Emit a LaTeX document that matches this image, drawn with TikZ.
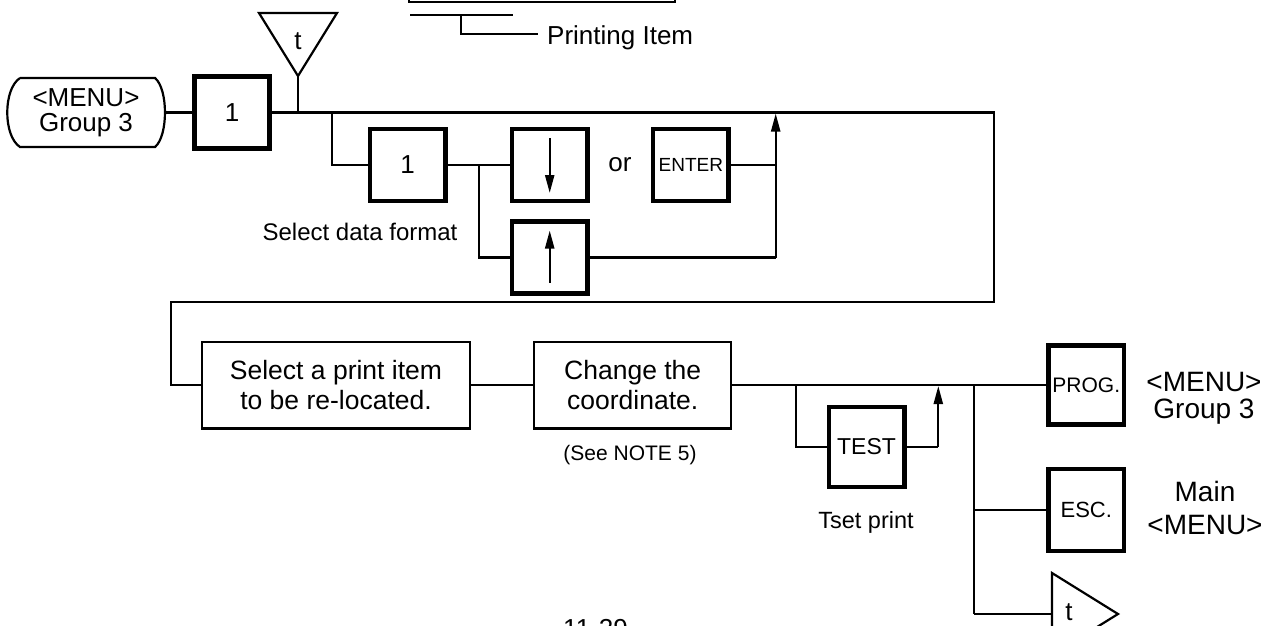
\documentclass[tikz,border=0pt]{standalone}
\usepackage{fontspec}
\setmainfont{Liberation Sans}
\usetikzlibrary{arrows.meta}
\newcommand\fsz[2]{\fontsize{#1}{#2}\selectfont}
\begin{document}
\begin{tikzpicture}[x=1pt,y=-1pt,
  ln/.style={line width=2.2pt},
  keybox/.style={draw,line width=4.6pt,inner sep=0pt,minimum width=75.4pt,minimum height=72pt,font=\fsz{26}{26}},
  procbox/.style={draw,line width=2.4pt,inner sep=0pt,align=center,font=\fsz{26.5}{30}},
  lbl/.style={inner sep=0pt,align=center},
  arr/.style={ln,-{Triangle[length=18pt,width=9pt]}}]
\useasboundingbox (0,0) rectangle (1278,626);

% top partial box and "Printing Item"
\draw[ln] (409,-40) rectangle (675,2);
\coordinate (pa) at (410,14.7);
\coordinate (pb) at (513,14.7);
\coordinate (pc) at (461,14.7);
\coordinate (pd) at (538,34);
\draw[ln] (pa) -- (pb);
\draw[ln] (pc) |- (pd);
\node[lbl,anchor=base west,font=\fsz{26}{26}] (pi) at (547,45) {Printing Item};

% MENU terminal (left)
\node[lbl,font=\fsz{26}{25}] (menu) at (86,112.5) {<MENU>\\Group 3};
\draw[ln] (20,78) -- (155,78) .. controls (168.3,89) and (168.3,136) .. (155,147)
  -- (20,147) .. controls (3,136) and (3,89) .. (20,78);
\coordinate (menuR) at (165,112.5);

% key 1
\node[keybox] (k1) at (232,112.5) {1};
\draw[ln] (menuR) -- (k1.west);

% t triangle top
\draw[ln] (259,13) -- (337,13) -- (298,76) -- cycle;
\node[lbl,font=\fsz{26}{26}] (tt) at (298,41) {t};
\coordinate (tapex) at (298,76);
\coordinate (tjoin) at (298,112.5);
\draw[ln] (tapex) -- (tjoin);

% main loop
\coordinate (m1) at (994,112.5);
\coordinate (m2) at (994,302);
\coordinate (m3) at (171,302);
\coordinate (m4) at (171,385);
\node[procbox,minimum width=267.6pt,minimum height=86.6pt] (sel) at (336,385) {Select a print item\\to be re-located.};
\draw[ln] (k1.east) -- (m1) -- (m2) -- (m3) -- (m4) -- (sel.west);

% upper branch
\coordinate (b0) at (332,112.5);
\coordinate (b1) at (332,165);
\node[keybox] (k2) at (407.7,165) {1};
\draw[ln] (b0) -- (b1) -- (k2.west);
\node[keybox] (kdn) at (549.7,165) {};
\node[keybox] (kup) at (549.7,257.5) {};
\node[keybox,font=\fsz{19}{19}] (ken) at (690.8,165) {ENTER};
\node[lbl,font=\fsz{26}{26}] (or) at (620,165) {or};
\draw[ln] (k2.east) -- (kdn.west);
\coordinate (s0) at (479.3,165);
\coordinate (s1) at (479.3,257.5);
\draw[ln] (s0) -- (s1) -- (kup.west);
\draw[arr] ([yshift=27pt]kdn.center) -- ([yshift=-28pt]kdn.center);
\draw[arr] ([yshift=-25pt]kup.center) -- ([yshift=27pt]kup.center);
\coordinate (r0) at (775.7,165);
\coordinate (r1) at (775.7,257.5);
\coordinate (r2) at (775.7,113.5);
\draw[ln] (ken.east) -- (r0);
\draw[ln] (kup.east) -- (r1);
\draw[arr] (r1) -- (r2);
\node[lbl,font=\fsz{24}{24}] (sdf) at (360,232) {Select data format};

% lower row
\node[procbox,minimum width=197pt,minimum height=86.6pt] (chg) at (632.7,385) {Change the\\coordinate.};
\draw[ln] (sel.east) -- (chg.west);
\node[lbl,font=\fsz{21}{21}] (note) at (630,455) {(See NOTE 5)};
\node[keybox,minimum height=79pt,font=\fsz{21}{21}] (prog) at (1086.3,385) {PROG.};
\draw[ln] (chg.east) -- (prog.west);

% TEST branch
\coordinate (x0) at (796,385);
\coordinate (x1) at (796,447);
\node[keybox,minimum height=80pt,font=\fsz{23}{23}] (test) at (866.5,447) {TEST};
\draw[ln] (x0) -- (x1) -- (test.west);
\coordinate (y1) at (938.3,447);
\coordinate (y2) at (938.3,386);
\draw[ln] (test.east) -- (y1);
\draw[arr] (y1) -- (y2);
\node[lbl,font=\fsz{23.5}{23.5}] (tp) at (866,522) {Tset print};

% ESC and t branch
\coordinate (e0) at (974,385);
\coordinate (e1) at (974,510);
\coordinate (e2) at (974,614);
\node[keybox,minimum height=82pt,font=\fsz{22}{22}] (esc) at (1086.3,510) {ESC.};
\draw[ln] (e0) -- (e2);
\draw[ln] (e1) -- (esc.west);
\draw[ln] (1052,573) -- (1118,614) -- (1052,655) -- cycle;
\coordinate (tRw) at (1052,614);
\draw[ln] (e2) -- (tRw);
\node[lbl,font=\fsz{26}{26}] (tR) at (1069,612) {t};

% right labels
\node[lbl,font=\fsz{28}{27}] (menuR2) at (1204,398) {<MENU>\\Group 3};
\node[lbl,font=\fsz{28}{33}] (mainm) at (1205,508) {Main\\<MENU>};

% page number
\node[lbl,anchor=base,font=\fsz{26}{26}] (pg) at (595.5,637) {11-29};
\end{tikzpicture}
\end{document}
